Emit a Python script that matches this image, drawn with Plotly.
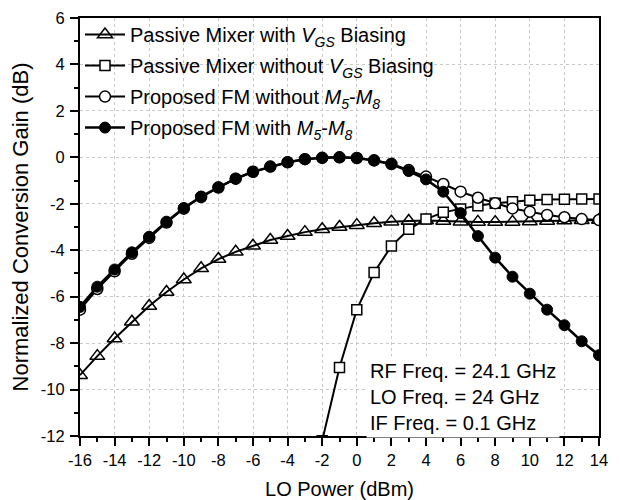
import plotly.graph_objects as go

lo_power = list(range(-16, 15))

# Passive Mixer with VGS Biasing (triangles)
gain_vgs = [-9.38, -8.56, -7.80, -7.08, -6.40, -5.80, -5.26, -4.78, -4.38, -4.07,
            -3.81, -3.56, -3.39, -3.22, -3.10, -3.00, -2.92, -2.84, -2.77, -2.74,
            -2.72, -2.74, -2.77, -2.78, -2.79, -2.78, -2.76, -2.74, -2.72, -2.71, -2.70]

# Passive Mixer without VGS Biasing (squares), starts at -2 dBm
lo_power_novgs = list(range(-2, 15))
gain_novgs = [-12.2, -9.05, -6.56, -4.96, -3.82, -3.10, -2.66, -2.37, -2.22, -2.08,
              -1.98, -1.91, -1.85, -1.82, -1.80, -1.79, -1.79]

# Proposed FM without M5-M8 (open circles)
gain_fm_without = [-6.56, -5.67, -4.91, -4.15, -3.47, -2.81, -2.21, -1.71, -1.30, -0.92,
                   -0.62, -0.40, -0.21, -0.08, -0.02, 0.0, -0.03, -0.13, -0.28, -0.55,
                   -0.83, -1.15, -1.48, -1.74, -1.98, -2.20, -2.34, -2.48, -2.58, -2.66, -2.70]

# Proposed FM with M5-M8 (filled circles)
gain_fm_with = [-6.44, -5.57, -4.83, -4.09, -3.42, -2.77, -2.18, -1.69, -1.29, -0.92,
                -0.62, -0.40, -0.21, -0.08, -0.02, 0.0, -0.03, -0.14, -0.30, -0.59,
                -0.95, -1.48, -2.40, -3.39, -4.32, -5.14, -5.87, -6.56, -7.23, -7.92, -8.52]

x_ticks = list(range(-16, 15, 2))
y_ticks = list(range(-12, 7, 2))

FONT = "Liberation Sans, Arial, sans-serif"

fig = go.Figure()

fig.add_trace(go.Scatter(
    x=lo_power, y=gain_vgs, mode="lines+markers",
    name="Passive Mixer with <i>V</i><sub><i>GS</i></sub> Biasing",
    line=dict(color="black", width=2),
    marker=dict(symbol="triangle-up-open", size=13, color="black", line=dict(width=1.5)),
    legendgroup="a",
))
fig.add_trace(go.Scatter(
    x=lo_power_novgs, y=gain_novgs, mode="lines+markers",
    name="Passive Mixer without <i>V</i><sub><i>GS</i></sub> Biasing",
    line=dict(color="black", width=2),
    marker=dict(symbol="square", size=10, color="white", line=dict(color="black", width=1.5)),
    legendgroup="b",
))
fig.add_trace(go.Scatter(
    x=lo_power, y=gain_fm_without, mode="lines+markers",
    name="Proposed FM without <i>M</i><sub><i>5</i></sub>-<i>M</i><sub><i>8</i></sub>",
    line=dict(color="black", width=2),
    marker=dict(symbol="circle", size=11, color="white", line=dict(color="black", width=1.5)),
    legendgroup="c",
))
fig.add_trace(go.Scatter(
    x=lo_power, y=gain_fm_with, mode="lines+markers",
    name="Proposed FM with <i>M</i><sub><i>5</i></sub>-<i>M</i><sub><i>8</i></sub>",
    line=dict(color="black", width=2.5),
    marker=dict(symbol="circle", size=11, color="black", line=dict(color="black", width=1)),
    legendgroup="d",
))

fig.add_annotation(
    x=0.55, y=-10.3, xref="x", yref="y", xanchor="left", yanchor="middle",
    text="RF Freq. = 24.1 GHz<br>LO Freq. = 24 GHz<br>IF Freq. = 0.1 GHz",
    align="left", showarrow=False, bgcolor="white", borderpad=3,
    font=dict(family=FONT, size=20, color="black"),
)

axis_common = dict(
    showline=True, linecolor="black", linewidth=2, mirror=True,
    ticks="outside", ticklen=8, tickwidth=1.5, tickcolor="black",
    showgrid=True, gridcolor="#c8c8c8", griddash="dot", gridwidth=1,
    zeroline=False, automargin=False,
    tickfont=dict(family=FONT, size=16.5, color="black"),
    minor=dict(ticks="outside", ticklen=4, tickwidth=1.5, tickcolor="black", dtick=1, showgrid=False),
)

fig.update_xaxes(
    range=[-16, 14], tickvals=x_ticks, ticktext=[str(v) for v in x_ticks],
    title=dict(text="LO Power (dBm)", font=dict(family=FONT, size=20, color="black"), standoff=14),
    **axis_common,
)
fig.update_yaxes(
    range=[-12, 6], tickvals=y_ticks, ticktext=[str(v) for v in y_ticks],
    ticklabelstandoff=2,
    title=dict(text="Normalized Conversion Gain (dB)", font=dict(family=FONT, size=22, color="black"), standoff=10),
    **axis_common,
)

fig.update_layout(
    width=612, height=492,
    margin=dict(l=72, r=21, t=10, b=64, autoexpand=False),
    paper_bgcolor="white", plot_bgcolor="white",
    font=dict(family=FONT, color="black"),
    legend=dict(
        x=0.0, y=1.007, xanchor="left", yanchor="top",
        bgcolor="rgba(0,0,0,0)", borderwidth=0,
        font=dict(family=FONT, size=20, color="black"),
        tracegroupgap=2, itemwidth=40,
    ),
    showlegend=True,
)

fig.write_html("out.html")
